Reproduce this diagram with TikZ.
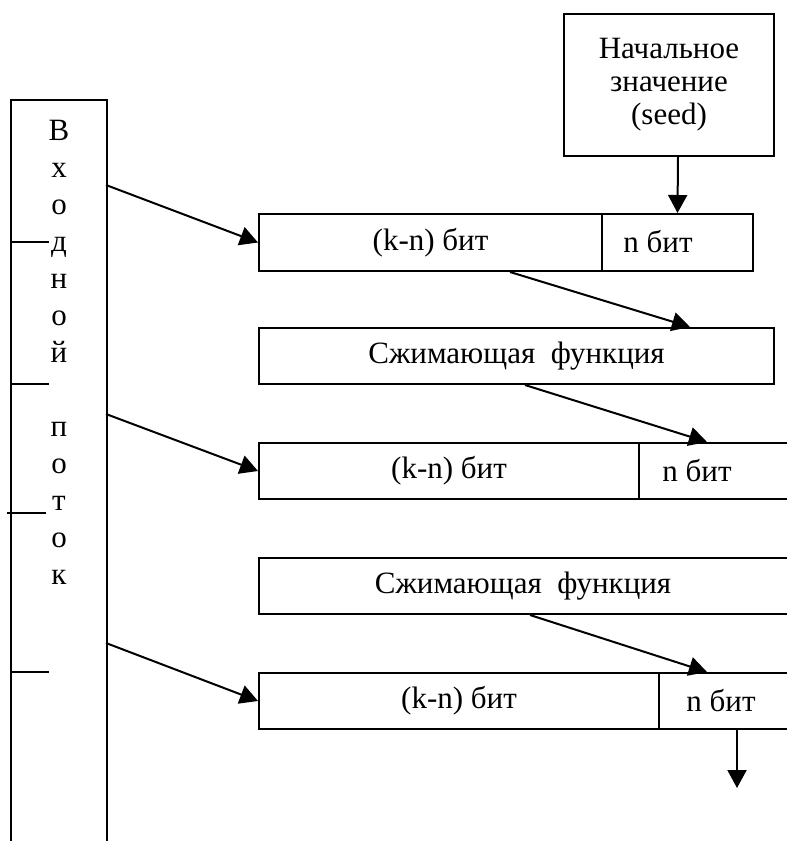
\documentclass[tikz,border=0pt]{standalone}
\usepackage{fontspec}
\setmainfont{Liberation Serif}
\usetikzlibrary{arrows.meta}
\begin{document}
\begin{tikzpicture}[x=1pt,y=-1pt,
  line width=2pt,
  box/.style={draw, line width=2pt, rectangle, inner sep=0pt, anchor=north west,
    font=\fontsize{31}{33}\selectfont},
  lbl/.style={font=\fontsize{31}{33}\selectfont, inner sep=0pt},
  arr/.style={-{Triangle[length=18pt,width=19pt]}, line width=2pt}]
\useasboundingbox (0,0) rectangle (787,841);
\clip (0,0) rectangle (787,841);

% input stream column (open at the bottom)
\node[box, minimum width=96pt, minimum height=800pt] (stream) at (10,99) {};
\foreach \ch/\k in {В/0,х/1,о/2,д/3,н/4,о/5,й/6,п/8,о/9,т/10,о/11,к/12}
  \node[lbl, anchor=base] (letter\k) at (59,{140+37*\k}) {\ch};
% block boundary ticks
\draw (10,242) -- (49,242);
\draw (10,384) -- (49,384);
\draw (7,513) -- (46,513);
\draw (10,672) -- (49,672);

% seed
\node[box, minimum width=210pt, minimum height=142pt, align=center] (seed) at (563,13)
  {Начальное\\значение\\(seed)};

% first state
\node[box, minimum width=343pt, minimum height=57pt] (kn1) at (258,213) {(k-n) бит};
\node[box, minimum width=151pt, minimum height=57pt] (n1) at (601,213) {};
\node[lbl] (n1t) at (658,242) {n бит};

% compression function 1
\node[box, minimum width=515pt, minimum height=56pt] (func1) at (258,327) {Сжимающая\hspace{0.5em}функция};

% second state
\node[box, minimum width=380pt, minimum height=56pt] (kn2) at (258,442) {(k-n) бит};
\node[box, minimum width=170pt, minimum height=56pt] (n2) at (638,442) {};
\node[lbl] (n2t) at (697,471) {n бит};

% compression function 2
\node[box, minimum width=545pt, minimum height=56pt] (func2) at (258,557) {};
\node[lbl] (func2t) at (523,586) {Сжимающая\hspace{0.5em}функция};

% third state
\node[box, minimum width=400pt, minimum height=56pt] (kn3) at (258,672) {(k-n) бит};
\node[box, minimum width=160pt, minimum height=56pt] (n3) at (658,672) {};
\node[lbl] (n3t) at (721,701) {n бит};
\coordinate (out) at (737,788);

% connectors
\coordinate (s1) at (106,185);
\coordinate (s2) at (106,414);
\coordinate (s3) at (106,643);
\draw[arr] (s1) -- (kn1.west);
\draw[arr] (s2) -- (kn2.west);
\draw[arr] (s3) -- (kn3.west);
\draw[arr] ([xshift=9pt]seed.south) -- (n1.north);
\draw[arr] ([xshift=252pt]kn1.south west) -- ([xshift=432pt]func1.north west);
\draw[arr] ([xshift=267pt]func1.south west) -- ([xshift=69pt]n2.north west);
\draw[arr] ([xshift=272pt]func2.south west) -- ([xshift=49pt]n3.north west);
\draw[arr] ([xshift=79pt]n3.south west) -- (out);
\end{tikzpicture}
\end{document}
